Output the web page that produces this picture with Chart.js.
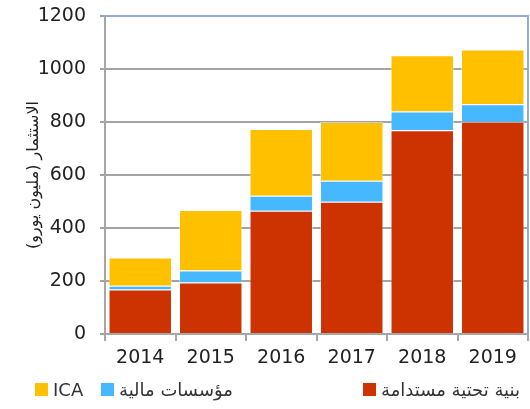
<!DOCTYPE html>
<html lang="ar">
<head>
  <meta charset="UTF-8">
  <title>الاستثمار</title>
  <style>
    body {
      margin: 0;
      padding: 0;
      background: #fff;
    }

    .wrap {
      position: relative;
      width: 530px;
      height: 409px;
    }

    .legend {
      position: absolute;
      top: 379px;
      left: 0;
      width: 530px;
      height: 24px;
      direction: ltr;
      font-family: "DejaVu Sans", sans-serif;
      font-size: 18px;
      color: #333;
    }

    .legend .item {
      position: absolute;
      top: 0;
      display: flex;
      align-items: center;
      white-space: nowrap;
    }

    .legend .item:nth-child(1) { left: 35px; }
    .legend .item:nth-child(2) { left: 101px; }
    .legend .item:nth-child(3) { left: 363px; }

    .legend .box {
      width: 13px;
      height: 13px;
      margin-right: 5px;
    }

    .legend .txt {
      unicode-bidi: isolate;
    }
  </style>
</head>
<body>
  <div class="wrap">
    <canvas id="chart" width="530" height="409"></canvas>
    <div class="legend" id="legend"></div>
  </div>

  <script src="https://cdn.jsdelivr.net/npm/chart.js"></script>
  <script>
    const years = ['2014', '2015', '2016', '2017', '2018', '2019'];
    const infra = [168, 194, 465, 499, 769, 801];
    const banks = [14, 46, 57, 79, 71, 66];
    const ica = [107, 228, 252, 222, 212, 207];

    const infraLabel = 'بنية تحتية مستدامة';
    const banksLabel = 'مؤسسات مالية';
    const icaLabel = 'ICA';
    const yTitle = 'الاستثمار (مليون يورو)';

    const red = '#cc3300';
    const blue = '#45b8ff';
    const yellow = '#ffc000';

    // top and right frame of the plot area
    const frame = {
      id: 'frame',
      afterDatasetsDraw(chart) {
        const a = chart.chartArea;
        const c = chart.ctx;
        c.save();
        c.strokeStyle = '#92a9d6';
        c.lineWidth = 2;
        c.beginPath();
        c.moveTo(a.left, a.top);
        c.lineTo(a.right, a.top);
        c.lineTo(a.right, a.bottom);
        c.stroke();
        c.restore();
      }
    };

    const tickFont = { family: '"DejaVu Sans", sans-serif', size: 19 };

    new Chart(document.getElementById('chart'), {
      type: 'bar',
      data: {
        labels: years,
        datasets: [
          { label: infraLabel, data: infra, backgroundColor: red, borderColor: 'rgba(255,255,255,0.45)', borderWidth: 1 },
          { label: banksLabel, data: banks, backgroundColor: blue, borderColor: 'rgba(255,255,255,0.45)', borderWidth: 1 },
          { label: icaLabel, data: ica, backgroundColor: yellow, borderColor: 'rgba(255,255,255,0.45)', borderWidth: 1 }
        ]
      },
      options: {
        responsive: false,
        animation: false,
        layout: { padding: { top: 16, right: 2, bottom: 0, left: 0 } },
        plugins: {
          legend: { display: false },
          tooltip: { enabled: false }
        },
        datasets: {
          bar: { barPercentage: 0.9, categoryPercentage: 1 }
        },
        scales: {
          x: {
            stacked: true,
            afterFit: s => { s.height = 75; },
            grid: { offset: true, drawOnChartArea: false, tickLength: 7, color: '#a6a6a6', lineWidth: 2 },
            border: { color: '#a6a6a6', width: 2 },
            ticks: { color: '#222', font: tickFont, padding: 6 }
          },
          y: {
            stacked: true,
            min: 0,
            max: 1200,
            afterFit: s => {
              s.width = 105;
              s.paddingTop = 0;
              s.paddingBottom = 0;
            },
            ticks: { stepSize: 200, color: '#222', font: tickFont, padding: 14, callback: v => String(v) },
            grid: { color: '#a3a3a3', lineWidth: 2, tickLength: 5 },
            border: { color: '#a6a6a6', width: 2 },
            title: {
              display: true,
              text: yTitle,
              color: '#222',
              font: { family: '"DejaVu Sans", sans-serif', size: 16 },
              padding: { top: 24, bottom: 0 }
            }
          }
        }
      },
      plugins: [frame]
    });

    // legend: ICA, banks, infrastructure (left to right)
    const legendItems = [
      [icaLabel, yellow],
      [banksLabel, blue],
      [infraLabel, red]
    ];
    const legend = document.getElementById('legend');
    legendItems.forEach(([t, col]) => {
      const it = document.createElement('div');
      it.className = 'item';
      it.innerHTML = '<span class="box" style="background:' + col + '"></span><span class="txt">' + t + '</span>';
      legend.appendChild(it);
    });
  </script>
</body>
</html>
